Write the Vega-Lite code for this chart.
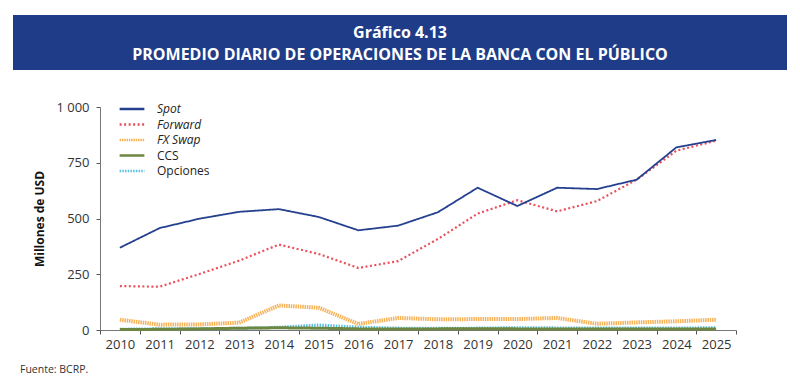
{
  "$schema": "https://vega.github.io/schema/vega-lite/v6.json",
  "background": "white",
  "padding": {"left": 13, "top": 15, "right": 5, "bottom": 0},
  "spacing": 30,
  "resolve": {"legend": {"color": "independent", "strokeDash": "independent"}},
  "config": {"view": {"stroke": null}, "font": "Open Sans"},
  "vconcat": [
    {
      "width": 774,
      "height": 55,
      "view": {"fill": "#1f3c88", "stroke": null},
      "data": {"values": [
        {"row": 1, "line": "Gráfico 4.13"},
        {"row": 2, "line": "PROMEDIO DIARIO DE OPERACIONES DE LA BANCA CON EL PÚBLICO"}
      ]},
      "mark": {"type": "text", "color": "white", "fontWeight": "bold", "fontSize": 16, "font": "Open Sans"},
      "encoding": {
        "y": {"field": "row", "type": "ordinal", "axis": null, "scale": {"type": "point", "padding": 0.75, "align": 0.545}},
        "text": {"field": "line"}
      }
    },
    {
      "width": 723,
      "height": 223,
      "title": {"text": "Fuente: BCRP.", "orient": "bottom", "anchor": "start", "frame": "group", "dx": 7, "offset": 14, "fontSize": 10.5, "fontWeight": "normal", "color": "#333", "font": "Open Sans"},
      "data": {"values": [
        {"year": "2010", "series": "Spot", "value": 369},
        {"year": "2011", "series": "Spot", "value": 457},
        {"year": "2012", "series": "Spot", "value": 499},
        {"year": "2013", "series": "Spot", "value": 530},
        {"year": "2014", "series": "Spot", "value": 542},
        {"year": "2015", "series": "Spot", "value": 507},
        {"year": "2016", "series": "Spot", "value": 447},
        {"year": "2017", "series": "Spot", "value": 468},
        {"year": "2018", "series": "Spot", "value": 528},
        {"year": "2019", "series": "Spot", "value": 638},
        {"year": "2020", "series": "Spot", "value": 556},
        {"year": "2021", "series": "Spot", "value": 638},
        {"year": "2022", "series": "Spot", "value": 632},
        {"year": "2023", "series": "Spot", "value": 674},
        {"year": "2024", "series": "Spot", "value": 819},
        {"year": "2025", "series": "Spot", "value": 852},
        {"year": "2010", "series": "Forward", "value": 197},
        {"year": "2011", "series": "Forward", "value": 194},
        {"year": "2012", "series": "Forward", "value": 251},
        {"year": "2013", "series": "Forward", "value": 311},
        {"year": "2014", "series": "Forward", "value": 383},
        {"year": "2015", "series": "Forward", "value": 341},
        {"year": "2016", "series": "Forward", "value": 278},
        {"year": "2017", "series": "Forward", "value": 309},
        {"year": "2018", "series": "Forward", "value": 408},
        {"year": "2019", "series": "Forward", "value": 522},
        {"year": "2020", "series": "Forward", "value": 582},
        {"year": "2021", "series": "Forward", "value": 532},
        {"year": "2022", "series": "Forward", "value": 578},
        {"year": "2023", "series": "Forward", "value": 674},
        {"year": "2024", "series": "Forward", "value": 804},
        {"year": "2025", "series": "Forward", "value": 849},
        {"year": "2010", "series": "FX Swap", "value": 46},
        {"year": "2011", "series": "FX Swap", "value": 24},
        {"year": "2012", "series": "FX Swap", "value": 25},
        {"year": "2013", "series": "FX Swap", "value": 33},
        {"year": "2014", "series": "FX Swap", "value": 110},
        {"year": "2015", "series": "FX Swap", "value": 100},
        {"year": "2016", "series": "FX Swap", "value": 27},
        {"year": "2017", "series": "FX Swap", "value": 54},
        {"year": "2018", "series": "FX Swap", "value": 48},
        {"year": "2019", "series": "FX Swap", "value": 49},
        {"year": "2020", "series": "FX Swap", "value": 49},
        {"year": "2021", "series": "FX Swap", "value": 54},
        {"year": "2022", "series": "FX Swap", "value": 28},
        {"year": "2023", "series": "FX Swap", "value": 34},
        {"year": "2024", "series": "FX Swap", "value": 39},
        {"year": "2025", "series": "FX Swap", "value": 46},
        {"year": "2010", "series": "CCS", "value": 2},
        {"year": "2011", "series": "CCS", "value": 3},
        {"year": "2012", "series": "CCS", "value": 5},
        {"year": "2013", "series": "CCS", "value": 8},
        {"year": "2014", "series": "CCS", "value": 10},
        {"year": "2015", "series": "CCS", "value": 8},
        {"year": "2016", "series": "CCS", "value": 5},
        {"year": "2017", "series": "CCS", "value": 5},
        {"year": "2018", "series": "CCS", "value": 5},
        {"year": "2019", "series": "CCS", "value": 6},
        {"year": "2020", "series": "CCS", "value": 5},
        {"year": "2021", "series": "CCS", "value": 5},
        {"year": "2022", "series": "CCS", "value": 4},
        {"year": "2023", "series": "CCS", "value": 4},
        {"year": "2024", "series": "CCS", "value": 4},
        {"year": "2025", "series": "CCS", "value": 4},
        {"year": "2010", "series": "Opciones", "value": 3},
        {"year": "2011", "series": "Opciones", "value": 5},
        {"year": "2012", "series": "Opciones", "value": 6},
        {"year": "2013", "series": "Opciones", "value": 7},
        {"year": "2014", "series": "Opciones", "value": 12},
        {"year": "2015", "series": "Opciones", "value": 22},
        {"year": "2016", "series": "Opciones", "value": 12},
        {"year": "2017", "series": "Opciones", "value": 8},
        {"year": "2018", "series": "Opciones", "value": 7},
        {"year": "2019", "series": "Opciones", "value": 8},
        {"year": "2020", "series": "Opciones", "value": 10},
        {"year": "2021", "series": "Opciones", "value": 9},
        {"year": "2022", "series": "Opciones", "value": 8},
        {"year": "2023", "series": "Opciones", "value": 8},
        {"year": "2024", "series": "Opciones", "value": 8},
        {"year": "2025", "series": "Opciones", "value": 10}
      ]},
      "encoding": {
        "x": {
          "field": "year", "type": "ordinal",
          "scale": {"type": "band", "paddingInner": 0, "paddingOuter": 0, "range": [87, 723]},
          "axis": {"title": null, "labelAngle": 0, "tickBand": "extent", "domainColor": "#777", "tickColor": "#555", "tickSize": 4, "labelFontSize": 13, "labelColor": "#333", "labelPadding": 4, "labelFont": "Open Sans"}
        },
        "y": {
          "field": "value", "type": "quantitative",
          "scale": {"domain": [0, 1000]},
          "axis": {"offset": -87, "values": [0, 250, 500, 750, 1000], "labelExpr": "datum.value == 1000 ? '1 000' : datum.label", "grid": false, "title": "Millones de USD", "titleFontWeight": "bold", "titleFontSize": 12, "titleColor": "#111", "titlePadding": 9, "domainColor": "#777", "tickColor": "#555", "tickSize": 4, "labelFontSize": 13, "labelColor": "#333", "labelPadding": 7, "labelFont": "Open Sans", "titleFont": "Open Sans"}
        },
        "color": {
          "field": "series", "type": "nominal",
          "scale": {"domain": ["Spot", "Forward", "FX Swap", "CCS", "Opciones"], "range": ["#24408e", "#e9505c", "#f7b35a", "#6e8740", "#56bfe0"]},
          "legend": {"title": null, "orient": "none", "legendX": 110, "legendY": -7, "padding": 0, "symbolType": "M-1.65,0H1.65", "symbolSize": 225, "symbolStrokeWidth": 2.5, "labelFontSize": 12, "labelColor": "#222", "labelOffset": 16, "rowPadding": 0.5, "labelFont": "Open Sans", "labelFontStyle": {"expr": "datum.label == 'CCS' || datum.label == 'Opciones' ? 'normal' : 'italic'"}}
        },
        "strokeDash": {
          "field": "series", "type": "nominal",
          "scale": {"domain": ["Spot", "Forward", "FX Swap", "CCS", "Opciones"], "range": [[1, 0], [2, 2.5], [1.5, 0.8], [1, 0], [1.5, 1.2]]}
        }
      },
      "layer": [
        {"transform": [{"filter": "datum.series == 'Opciones'"}], "mark": {"type": "line", "strokeWidth": 3.2}},
        {"transform": [{"filter": "datum.series == 'CCS'"}], "mark": {"type": "line", "strokeWidth": 3}},
        {"transform": [{"filter": "datum.series == 'FX Swap'"}], "mark": {"type": "line", "strokeWidth": 4}},
        {"transform": [{"filter": "datum.series == 'Forward'"}], "mark": {"type": "line", "strokeWidth": 2.2}},
        {"transform": [{"filter": "datum.series == 'Spot'"}], "mark": {"type": "line", "strokeWidth": 1.8}}
      ]
    }
  ]
}
